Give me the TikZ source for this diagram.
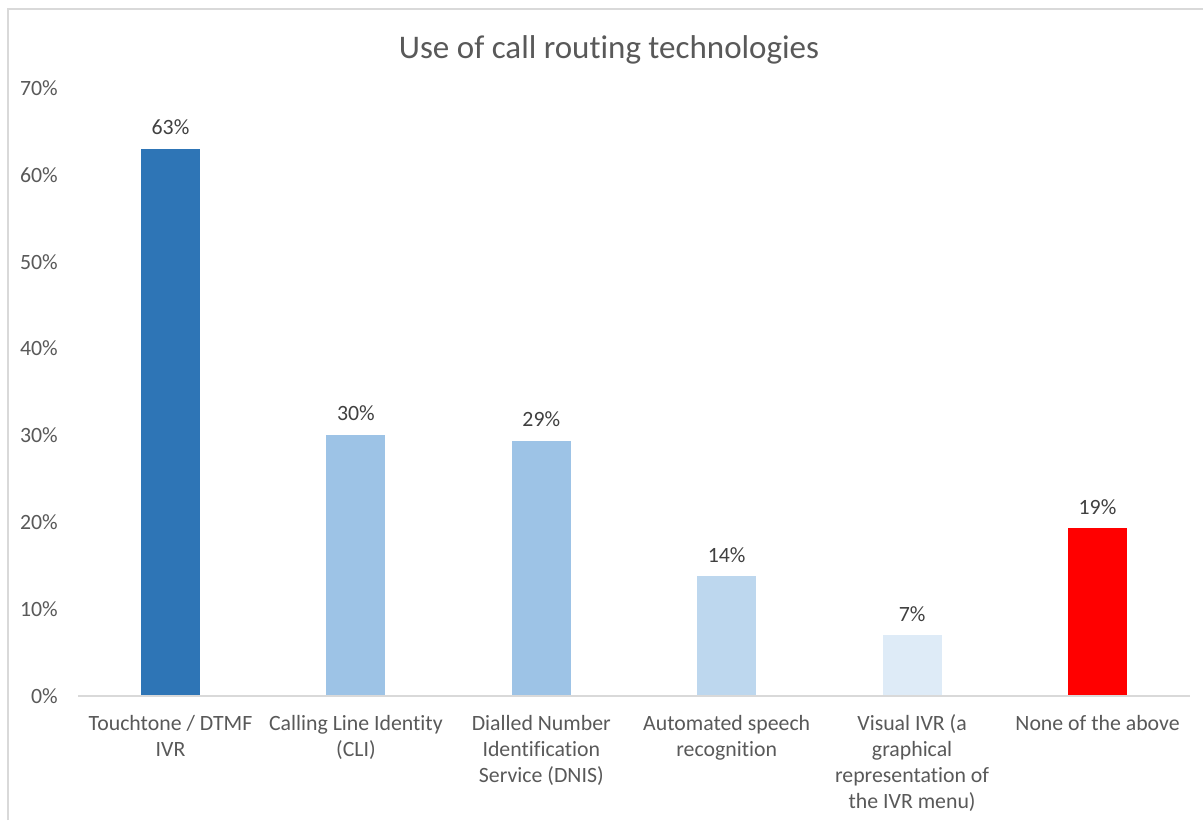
\documentclass[tikz,border=0pt]{standalone}
\usepackage{fontspec}
\setmainfont{Carlito}[Ligatures={NoCommon}]
\definecolor{txt}{HTML}{595959}
\definecolor{vtxt}{HTML}{404040}
\definecolor{axisgray}{HTML}{D9D9D9}
\definecolor{barA}{HTML}{2E75B6}
\definecolor{barB}{HTML}{9DC3E6}
\definecolor{barC}{HTML}{BDD7EE}
\definecolor{barD}{HTML}{DEEBF7}
\definecolor{barE}{HTML}{FF0000}
\begin{document}
\begin{tikzpicture}[x=1pt,y=-1pt,
  ticklab/.style={anchor=east,inner sep=0pt,text=txt,font=\fontsize{21.8}{26}\selectfont},
  catlab/.style={anchor=north,inner sep=0pt,align=center,text=txt,font=\fontsize{21.8}{26}\selectfont},
  vallab/.style={anchor=base,inner sep=0pt,text=vtxt,font=\fontsize{21.8}{26}\selectfont},
  titlelab/.style={anchor=base,inner sep=0pt,text=txt,font=\fontsize{33}{40}\selectfont}]
\useasboundingbox (0,0) rectangle (1203,820);
\fill[white] (0,0) rectangle (1203,820);
% chart border (left and top visible)
\draw[axisgray,line width=1.2pt] (8,820) -- (8,9) -- (1203,9);
% title
\node[titlelab] (title) at (609,58) {Use of call routing technologies};
% y tick labels
\foreach \v/\n in {0/t0,10/t10,20/t20,30/t30,40/t40,50/t50,60/t60,70/t70}{
  \node[ticklab] (\n) at (58,{696-\v*8.686}) {\v\%};
}
% bars
\def\bw{29.5}
\foreach \cx/\val/\col/\nm in {170.5/63.0/barA/b1,355.9/30.05/barB/b2,541.3/29.36/barB/b3,726.7/13.8/barC/b4,912.1/7.0/barD/b5,1097.5/19.3/barE/b6}{
  \fill[\col] ({\cx-\bw},696) rectangle ({\cx+\bw},{696-\val*8.686});
  \coordinate (\nm) at (\cx,{696-\val*8.686});
}
% axis line
\draw[axisgray,line width=1.5pt] (78,696) -- (1190,696);
% value labels
\node[vallab] (v1) at ([yshift=14pt]b1) {63\%};
\node[vallab] (v2) at ([yshift=14pt]b2) {30\%};
\node[vallab] (v3) at ([yshift=14pt]b3) {29\%};
\node[vallab] (v4) at ([yshift=14pt]b4) {14\%};
\node[vallab] (v5) at ([yshift=14pt]b5) {7\%};
\node[vallab] (v6) at ([yshift=14pt]b6) {19\%};
% category labels
\node[catlab] (c1) at (170.5,712) {\rule{0pt}{18pt}Touchtone / DTMF\\IVR};
\node[catlab] (c2) at (355.9,712) {\rule{0pt}{18pt}Calling Line Identity\\(CLI)};
\node[catlab] (c3) at (541.3,712) {\rule{0pt}{18pt}Dialled Number\\Identification\\Service (DNIS)};
\node[catlab] (c4) at (726.7,712) {\rule{0pt}{18pt}Automated speech\\recognition};
\node[catlab] (c5) at (912.1,712) {\rule{0pt}{18pt}Visual IVR (a\\graphical\\representation of\\the IVR menu)};
\node[catlab] (c6) at (1097.5,712) {\rule{0pt}{18pt}None of the above};
\end{tikzpicture}
\end{document}
